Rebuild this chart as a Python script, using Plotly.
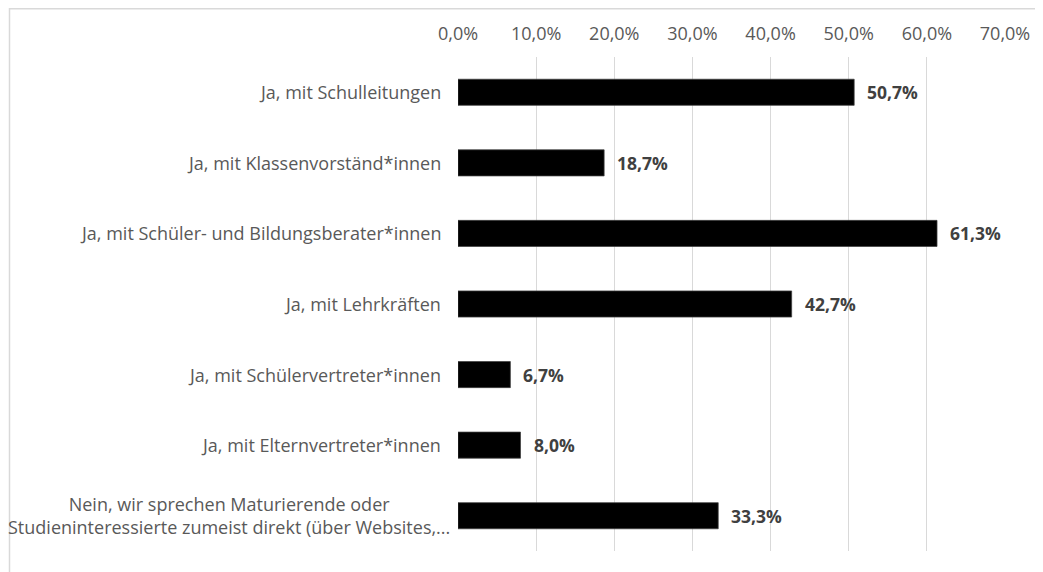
import plotly.graph_objects as go

categories = [
    "Ja, mit Schulleitungen",
    "Ja, mit Klassenvorständ*innen",
    "Ja, mit Schüler- und Bildungsberater*innen",
    "Ja, mit Lehrkräften",
    "Ja, mit Schülervertreter*innen",
    "Ja, mit Elternvertreter*innen",
    "Nein, wir sprechen Maturierende oder<br>Studieninteressierte zumeist direkt (über Websites,...",
]
values = [0.507, 0.187, 0.613, 0.427, 0.067, 0.080, 0.333]
tick_vals = [0, 0.1, 0.2, 0.3, 0.4, 0.5, 0.6, 0.7]

FONT = "Open Sans"
# page body has an 8px margin, so the figure is laid out 8px smaller
W, H = 1035, 564
L, R, T, B = 450, 38, 49, 21

fig = go.Figure()
fig.add_trace(go.Bar(
    y=categories, x=values, orientation="h",
    marker=dict(color="#000000", line=dict(color="#404040", width=0.75)),
    hoverinfo="x+y",
))

annotations = []
for c, v in zip(categories, values):
    annotations.append(dict(
        x=0, xref="paper", y=c, yref="y", text=c, showarrow=False,
        xanchor="right", yanchor="middle", align="center",
        xshift=-6 if "<br>" in c else -15,
        font=dict(family=FONT, size=18, color="#595959"),
    ))
    annotations.append(dict(
        x=v, xref="x", y=c, yref="y",
        text="<b>" + f"{v*100:.1f}".replace(".", ",") + "%</b>",
        showarrow=False, xanchor="left", yanchor="middle", xshift=11,
        font=dict(family=FONT, size=17.5, color="#404040"),
    ))

pw = W - L - R
ph = H - T - B
fig.add_shape(
    type="rect", xref="paper", yref="paper",
    x0=(1.5 - L) / pw, x1=(W + 20 - L) / pw,
    y0=-(B + 20) / ph, y1=((H - B) - 0.8) / ph,
    line=dict(color="#d9d9d9", width=1.5), fillcolor="rgba(0,0,0,0)", layer="below",
)

fig.update_layout(
    width=W, height=H,
    margin=dict(l=L, r=R, t=T, b=B, pad=0),
    paper_bgcolor="white", plot_bgcolor="white",
    separators=",.",
    bargap=0.63,
    showlegend=False,
    annotations=annotations,
    xaxis=dict(
        side="top", range=[0, 0.70], tickvals=tick_vals, tickformat=".1%",
        showgrid=True, gridcolor="#d9d9d9", gridwidth=1.3,
        zeroline=False, showline=False, ticks="",
        tickfont=dict(family=FONT, size=18, color="#595959"),
        ticklabelstandoff=12,
    ),
    yaxis=dict(
        autorange="reversed", showticklabels=False, showgrid=False,
        zeroline=False, showline=False, ticks="",
    ),
    font=dict(family=FONT),
)

fig.write_html("out.html")
